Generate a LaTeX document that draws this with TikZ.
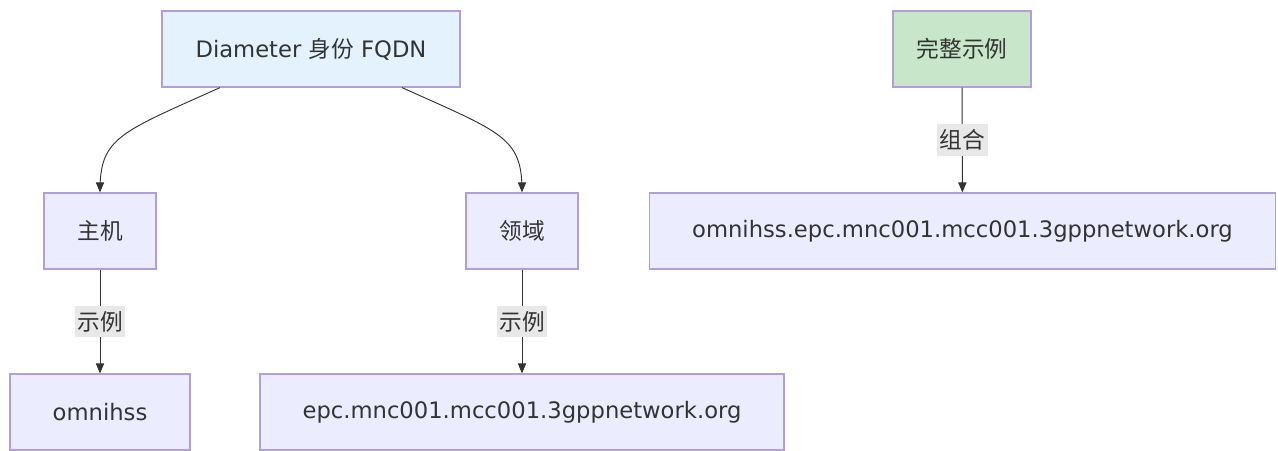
\documentclass[tikz,border=0pt]{standalone}
\usepackage{fontspec}
\setmainfont{DejaVu Sans}
\newfontfamily\cjk{Noto Sans CJK SC}
\usepackage{tikz}
\usetikzlibrary{arrows}

\definecolor{boxfill}{HTML}{ECECFF}
\definecolor{boxline}{HTML}{B39DDB}
\definecolor{topfill}{HTML}{E3F2FD}
\definecolor{greenfill}{HTML}{C8E6C9}
\definecolor{linkcol}{HTML}{333333}
\definecolor{lblfill}{HTML}{E8E8E8}

\begin{document}
\begin{tikzpicture}[x=0.75pt,y=-0.75pt,
    box/.style={draw=boxline,fill=boxfill,line width=0.9pt,minimum height=57pt,
      inner sep=0pt,text=linkcol,font=\fontsize{17}{20}\selectfont},
    link/.style={draw=linkcol,line width=0.7pt,-triangle 45},
    lbl/.style={fill=lblfill,inner xsep=2pt,inner ysep=4pt,text=linkcol,font=\fontsize{17}{20}\selectfont\cjk}]
    \useasboundingbox (0,0) rectangle (1278,450);

    \node[box,fill=topfill,minimum width=223.5pt] (fqdn) at (311,49) {Diameter {\cjk 身份} FQDN};
    \node[box,minimum width=84pt] (host) at (100,231) {\cjk 主机};
    \node[box,minimum width=84pt] (realm) at (522,231) {\cjk 领域};
    \node[box,minimum width=135pt] (hostval) at (100,412) {omnihss};
    \node[box,minimum width=393pt] (realmval) at (522,412) {epc.mnc001.mcc001.3gppnetwork.org};

    \node[box,fill=greenfill,minimum width=103.5pt] (full) at (962,49) {\cjk 完整示例};
    \node[box,minimum width=470pt] (fullval) at (962.5,231) {omnihss.epc.mnc001.mcc001.3gppnetwork.org};

    \draw[link] ([xshift=-68.25pt]fqdn.south) .. controls +(-100,45) and +(0,-55) .. (host.north);
    \draw[link] ([xshift=68.25pt]fqdn.south) .. controls +(100,45) and +(0,-55) .. (realm.north);
    \draw[link] (host) -- node[lbl] {示例} (hostval);
    \draw[link] (realm) -- node[lbl] {示例} (realmval);
    \draw[link] (full) -- node[lbl] {组合} (fullval);
\end{tikzpicture}
\end{document}
